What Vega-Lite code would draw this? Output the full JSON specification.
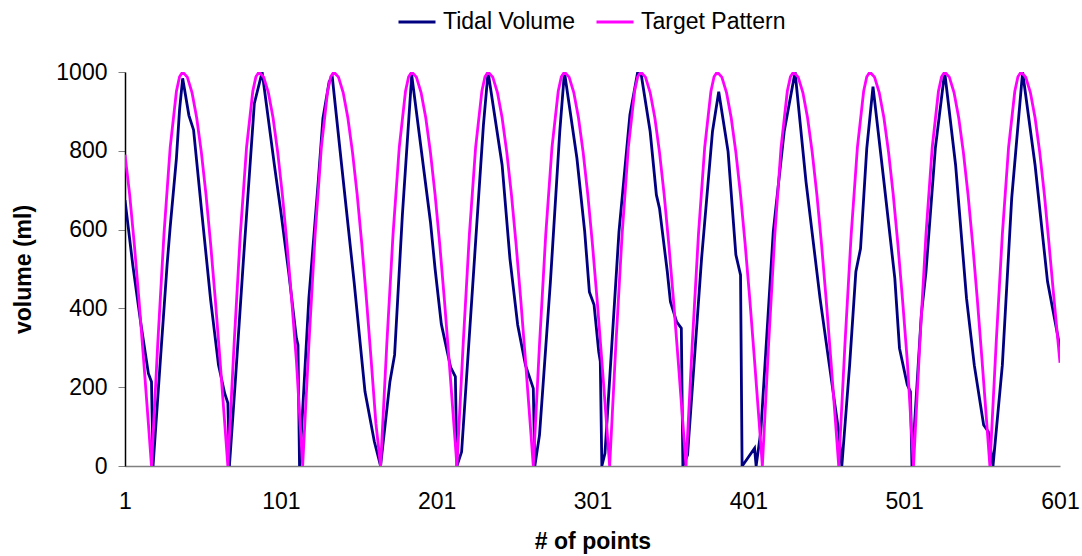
{
  "$schema": "https://vega.github.io/schema/vega-lite/v6.json",
  "autosize": "none",
  "width": 935,
  "height": 394,
  "padding": {"left": 125, "top": 72, "right": 22, "bottom": 90},
  "background": "white",
  "config": {
    "view": {"stroke": null},
    "font": "Liberation Sans",
    "legend": {
      "orient": "none",
      "legendX": 272,
      "legendY": -70,
      "direction": "horizontal",
      "symbolType": "stroke",
      "symbolSize": 1369,
      "symbolStrokeWidth": 3,
      "labelFontSize": 23,
      "labelFont": "Liberation Sans",
      "labelColor": "#000",
      "labelOffset": 6,
      "columnPadding": 14,
      "padding": 0,
      "title": null
    }
  },
  "datasets": {
    "tidal": [
      {"x":1,"v":675},{"x":6,"v":510},{"x":11,"v":366},{"x":16,"v":235},{"x":18,"v":214},{"x":19,"v":0},
      {"x":24,"v":286},{"x":28,"v":510},{"x":30,"v":607},{"x":34,"v":781},{"x":36,"v":904},{"x":38,"v":984},
      {"x":42,"v":890},{"x":45,"v":853},{"x":50,"v":654},{"x":56,"v":420},{"x":61,"v":256},{"x":65,"v":184},{"x":67,"v":160},{"x":68,"v":0},
      {"x":72,"v":227},{"x":77,"v":523},{"x":84,"v":920},{"x":89,"v":1000},
      {"x":97,"v":760},{"x":101,"v":646},{"x":106,"v":493},{"x":111,"v":324},{"x":112,"v":307},{"x":113,"v":0},
      {"x":119,"v":426},{"x":125,"v":722},{"x":128,"v":882},{"x":132,"v":975},{"x":134,"v":988},
      {"x":140,"v":764},{"x":148,"v":468},{"x":155,"v":189},{"x":161,"v":62},{"x":165,"v":0},
      {"x":171,"v":214},{"x":174,"v":282},{"x":179,"v":637},{"x":185,"v":992},
      {"x":197,"v":620},{"x":200,"v":500},{"x":204,"v":360},{"x":210,"v":250},{"x":213,"v":227},{"x":214,"v":0},{"x":217,"v":36},
      {"x":225,"v":510},{"x":231,"v":865},{"x":234,"v":1000},
      {"x":243,"v":764},{"x":248,"v":527},{"x":253,"v":358},{"x":258,"v":256},{"x":263,"v":197},{"x":264,"v":0},{"x":267,"v":79},
      {"x":274,"v":468},{"x":280,"v":849},{"x":283,"v":1000},
      {"x":291,"v":781},{"x":296,"v":595},{"x":299,"v":442},{"x":302,"v":409},{"x":305,"v":290},{"x":306,"v":265},{"x":307,"v":0},{"x":309,"v":32},
      {"x":318,"v":595},{"x":325,"v":891},{"x":330,"v":1000},{"x":332,"v":1000},
      {"x":338,"v":849},{"x":342,"v":688},{"x":344,"v":654},{"x":349,"v":493},{"x":351,"v":417},{"x":355,"v":366},{"x":358,"v":350},{"x":359,"v":0},{"x":362,"v":28},
      {"x":371,"v":527},{"x":378,"v":849},{"x":382,"v":950},
      {"x":386,"v":849},{"x":388,"v":798},{"x":393,"v":536},{"x":396,"v":485},{"x":397,"v":0},{"x":398,"v":5},{"x":405,"v":45},{"x":406,"v":0},
      {"x":409,"v":87},{"x":417,"v":595},{"x":424,"v":849},{"x":431,"v":1000},
      {"x":438,"v":722},{"x":447,"v":426},{"x":453,"v":256},{"x":459,"v":87},{"x":461,"v":0},
      {"x":466,"v":256},{"x":470,"v":493},{"x":473,"v":552},{"x":477,"v":806},{"x":481,"v":963},
      {"x":488,"v":722},{"x":495,"v":476},{"x":498,"v":299},{"x":503,"v":206},{"x":505,"v":189},{"x":506,"v":0},
      {"x":512,"v":383},{"x":515,"v":493},{"x":521,"v":806},{"x":527,"v":1000},
      {"x":534,"v":764},{"x":541,"v":426},{"x":546,"v":256},{"x":552,"v":104},{"x":555,"v":87},{"x":558,"v":0},
      {"x":564,"v":256},{"x":570,"v":679},{"x":577,"v":1000},
      {"x":585,"v":764},{"x":593,"v":468},{"x":601,"v":300}
    ],
    "target": [
      {"x":1,"v":790},{"x":4,"v":688},{"x":7,"v":561},{"x":10,"v":420},{"x":13,"v":267},{"x":16,"v":108},{"x":18,"v":0},
      {"x":22,"v":309},{"x":26,"v":588},{"x":30,"v":809},{"x":34,"v":951},{"x":36,"v":988},{"x":38,"v":1000},
      {"x":41,"v":987},{"x":44,"v":948},{"x":47,"v":884},{"x":50,"v":796},{"x":53,"v":688},{"x":56,"v":561},{"x":59,"v":420},{"x":62,"v":267},{"x":65,"v":108},{"x":67,"v":0},
      {"x":71,"v":309},{"x":75,"v":588},{"x":79,"v":809},{"x":83,"v":951},{"x":85,"v":988},{"x":87,"v":1000},
      {"x":90,"v":987},{"x":93,"v":948},{"x":96,"v":884},{"x":99,"v":796},{"x":102,"v":688},{"x":105,"v":561},{"x":108,"v":420},{"x":111,"v":267},{"x":115,"v":0},
      {"x":119,"v":309},{"x":123,"v":588},{"x":127,"v":809},{"x":131,"v":951},{"x":133,"v":988},{"x":135,"v":1000},
      {"x":138,"v":987},{"x":141,"v":948},{"x":144,"v":884},{"x":147,"v":796},{"x":150,"v":688},{"x":153,"v":561},{"x":156,"v":420},{"x":159,"v":267},{"x":162,"v":108},{"x":165,"v":0},
      {"x":169,"v":309},{"x":173,"v":588},{"x":177,"v":809},{"x":181,"v":951},{"x":183,"v":988},{"x":185,"v":1000},
      {"x":188,"v":987},{"x":191,"v":948},{"x":194,"v":884},{"x":197,"v":796},{"x":200,"v":688},{"x":203,"v":561},{"x":206,"v":420},{"x":209,"v":267},{"x":212,"v":108},{"x":214,"v":0},
      {"x":218,"v":309},{"x":222,"v":588},{"x":226,"v":809},{"x":230,"v":951},{"x":232,"v":988},{"x":234,"v":1000},
      {"x":237,"v":987},{"x":240,"v":948},{"x":243,"v":884},{"x":246,"v":796},{"x":249,"v":688},{"x":252,"v":561},{"x":255,"v":420},{"x":258,"v":267},{"x":261,"v":108},{"x":263,"v":0},
      {"x":267,"v":309},{"x":271,"v":588},{"x":275,"v":809},{"x":279,"v":951},{"x":281,"v":988},{"x":283,"v":1000},
      {"x":286,"v":987},{"x":289,"v":948},{"x":292,"v":884},{"x":295,"v":796},{"x":298,"v":688},{"x":301,"v":561},{"x":304,"v":420},{"x":307,"v":267},{"x":310,"v":108},{"x":312,"v":0},
      {"x":316,"v":309},{"x":320,"v":588},{"x":324,"v":809},{"x":328,"v":951},{"x":330,"v":988},{"x":332,"v":1000},
      {"x":335,"v":987},{"x":338,"v":948},{"x":341,"v":884},{"x":344,"v":796},{"x":347,"v":688},{"x":350,"v":561},{"x":353,"v":420},{"x":356,"v":267},{"x":359,"v":108},{"x":361,"v":0},
      {"x":365,"v":309},{"x":369,"v":588},{"x":373,"v":809},{"x":377,"v":951},{"x":379,"v":988},{"x":381,"v":1000},
      {"x":384,"v":987},{"x":387,"v":948},{"x":390,"v":884},{"x":393,"v":796},{"x":396,"v":688},{"x":399,"v":561},{"x":402,"v":420},{"x":405,"v":267},{"x":408,"v":108},{"x":410,"v":0},
      {"x":414,"v":309},{"x":418,"v":588},{"x":422,"v":809},{"x":426,"v":951},{"x":428,"v":988},{"x":430,"v":1000},
      {"x":433,"v":987},{"x":436,"v":948},{"x":439,"v":884},{"x":442,"v":796},{"x":445,"v":688},{"x":448,"v":561},{"x":451,"v":420},{"x":454,"v":267},{"x":457,"v":108},{"x":459,"v":0},
      {"x":463,"v":309},{"x":467,"v":588},{"x":471,"v":809},{"x":475,"v":951},{"x":477,"v":988},{"x":479,"v":1000},
      {"x":482,"v":987},{"x":485,"v":948},{"x":488,"v":884},{"x":491,"v":796},{"x":494,"v":688},{"x":497,"v":561},{"x":500,"v":420},{"x":503,"v":267},{"x":507,"v":0},
      {"x":511,"v":309},{"x":515,"v":588},{"x":519,"v":809},{"x":523,"v":951},{"x":525,"v":988},{"x":527,"v":1000},
      {"x":530,"v":987},{"x":533,"v":948},{"x":536,"v":884},{"x":539,"v":796},{"x":542,"v":688},{"x":545,"v":561},{"x":548,"v":420},{"x":551,"v":267},{"x":554,"v":108},{"x":556,"v":0},
      {"x":560,"v":309},{"x":564,"v":588},{"x":568,"v":809},{"x":572,"v":951},{"x":574,"v":988},{"x":576,"v":1000},
      {"x":579,"v":987},{"x":582,"v":948},{"x":585,"v":884},{"x":588,"v":796},{"x":591,"v":688},{"x":594,"v":561},{"x":597,"v":430},{"x":601,"v":262}
    ]
  },
  "encoding": {
    "x": {
      "field": "x", "type": "quantitative",
      "scale": {"domain": [1, 601], "nice": false, "zero": false},
      "axis": {
        "values": [1, 101, 201, 301, 401, 501, 601],
        "format": "d",
        "ticks": false, "grid": false,
        "labelFlush": false, "labelBound": false, "labelOverlap": false,
        "labelFontSize": 23, "labelFont": "Liberation Sans", "labelColor": "#000", "labelPadding": 24,
        "domainColor": "#808080", "domainWidth": 1.5,
        "title": "# of points", "titleFontSize": 23, "titleFont": "Liberation Sans", "titleFontWeight": "bold", "titleColor": "#000", "titlePadding": 17
      }
    },
    "y": {
      "field": "v", "type": "quantitative",
      "scale": {"domain": [0, 1000], "nice": false},
      "axis": {
        "values": [0, 200, 400, 600, 800, 1000],
        "format": "d",
        "grid": false, "tickSize": 7, "tickColor": "#808080",
        "labelFontSize": 23, "labelFont": "Liberation Sans", "labelColor": "#000", "labelPadding": 11,
        "domainColor": "#000", "domainWidth": 1.5,
        "title": "volume (ml)", "titleFontSize": 23, "titleFont": "Liberation Sans", "titleFontWeight": "bold", "titleColor": "#000", "titlePadding": 20
      }
    }
  },
  "layer": [
    {
      "data": {"name": "tidal"},
      "mark": {"type": "line", "strokeWidth": 2.8, "clip": true},
      "encoding": {
        "color": {"datum": "Tidal Volume", "type": "nominal",
          "scale": {"domain": ["Tidal Volume", "Target Pattern"], "range": ["#000080", "#FF00FF"]}}
      }
    },
    {
      "data": {"name": "target"},
      "mark": {"type": "line", "strokeWidth": 2.8, "clip": true},
      "encoding": {
        "color": {"datum": "Target Pattern", "type": "nominal"}
      }
    }
  ]
}
